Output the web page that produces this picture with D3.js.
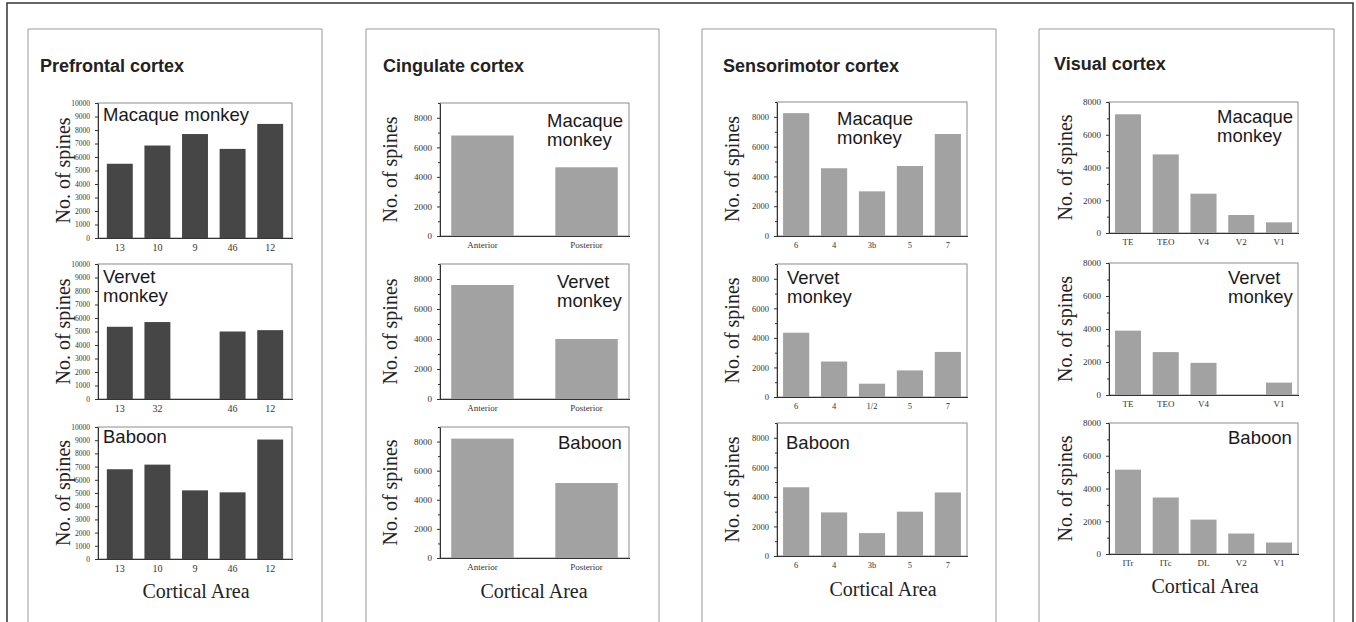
<!DOCTYPE html>
<html>
<head>
<meta charset="utf-8">
<script src="https://cdn.jsdelivr.net/npm/d3@7"></script>
<style>
  body { margin: 0; background: #fff; }
  .title { font-family: "Liberation Sans", Arial, sans-serif; font-weight: bold; font-size: 18px; fill: #222; }
  .species { font-family: "Liberation Sans", Arial, sans-serif; font-size: 18.5px; fill: #1a1a1a; }
  .serifLabel { font-family: "Liberation Serif", "Times New Roman", serif; font-size: 20px; fill: #222; }
  .axis text { font-family: "Liberation Serif", "Times New Roman", serif; fill: #333; }
  .axis path, .axis line { stroke: #333; }
</style>
</head>
<body>
<svg id="chart" width="1356" height="622"></svg>
<script>
// values (spines per cell)
var speciesNames = [["Macaque monkey"], ["Vervet", "monkey"], ["Baboon"]]
var speciesNamesTwoLine = [["Macaque", "monkey"], ["Vervet", "monkey"], ["Baboon"]]

var prefrontalAreas = [["13", "10", "9", "46", "12"], ["13", "32", "", "46", "12"], ["13", "10", "9", "46", "12"]]
var prefrontalSpines = [[5500, 6850, 7700, 6600, 8450], [5350, 5700, null, 5000, 5100], [6800, 7150, 5200, 5050, 9050]]

var cingulateAreas = [["Anterior", "Posterior"], ["Anterior", "Posterior"], ["Anterior", "Posterior"]]
var cingulateSpines = [[6800, 4650], [7600, 4000], [8200, 5150]]

var sensorimotorAreas = [["6", "4", "3b", "5", "7"], ["6", "4", "1/2", "5", "7"], ["6", "4", "3b", "5", "7"]]
var sensorimotorSpines = [[8250, 4550, 3000, 4700, 6850], [4350, 2400, 900, 1800, 3050], [4650, 2950, 1550, 3000, 4300]]

var visualAreas = [["TE", "TEO", "V4", "V2", "V1"], ["TE", "TEO", "V4", "", "V1"], ["ITr", "ITc", "DL", "V2", "V1"]]
var visualSpines = [[7250, 4800, 2400, 1100, 650], [3900, 2600, 1950, null, 750], [5150, 3450, 2100, 1250, 700]]

var yMaxes = [10000, 9000, 9000, 8000]
var majorSteps = [1000, 2000, 2000, 2000]

var svg = d3.select("#chart")

// outer frame
svg.append("path")
    .attr("d", "M7,622 V3 H1353 V622")
    .attr("fill", "none").attr("stroke", "#333").attr("stroke-width", 1.5)

var panels = [
    {title: "Prefrontal cortex", areas: prefrontalAreas, spines: prefrontalSpines, labels: speciesNames,
     box: [28, 322], titleXY: [40, 72], left: 98, right: 292, rows: [[103, 238], [264, 399], [427, 559]],
     pi: 0.31, po: 0.235, fill: "#464646", tickFont: 7.5, xFont: 10,
     labelXY: [[103, [121]], [103, [283, 302]], [103, [443]]], yLabelX: 63, xTitle: [196, 598]},
    {title: "Cingulate cortex", areas: cingulateAreas, spines: cingulateSpines, labels: speciesNamesTwoLine,
     box: [366, 659], titleXY: [383, 72], left: 440, right: 629, rows: [[103, 236], [264, 399], [427, 558]],
     pi: 0.4, po: 0.108, fill: "#a2a2a2", tickFont: 9, xFont: 9,
     labelXY: [[547, [127, 146]], [557, [288, 307]], [558, [449]]], yLabelX: 390, xTitle: [534, 598]},
    {title: "Sensorimotor cortex", areas: sensorimotorAreas, spines: sensorimotorSpines, labels: speciesNamesTwoLine,
     box: [702, 996], titleXY: [723, 72], left: 777, right: 967, rows: [[102, 236], [264, 397], [423, 556]],
     pi: 0.31, po: 0.16, fill: "#a2a2a2", tickFont: 8.5, xFont: 8.5,
     labelXY: [[837, [125, 144]], [787, [284, 303]], [786, [449]]], yLabelX: 732, xTitle: [883, 596]},
    {title: "Visual cortex", areas: visualAreas, spines: visualSpines, labels: speciesNamesTwoLine,
     box: [1039, 1334], titleXY: [1054, 70], left: 1109, right: 1298, rows: [[102, 233], [263, 395], [423, 554]],
     pi: 0.31, po: 0.158, fill: "#a2a2a2", tickFont: 9, xFont: 9,
     labelXY: [[1217, [123, 142]], [1228, [284, 303]], [1228, [444]]], yLabelX: 1065, xTitle: [1205, 593]}
]

panels.forEach(function (p, pIndex) {
    var g = svg.append("g")

    g.append("path")
        .attr("d", "M" + p.box[0] + ",622 V29 H" + p.box[1] + " V622")
        .attr("fill", "none").attr("stroke", "#9a9a9a").attr("stroke-width", 1)

    g.append("text").attr("class", "title")
        .attr("x", p.titleXY[0]).attr("y", p.titleXY[1])
        .text(p.title)

    p.rows.forEach(function (row, r) {
        var top = row[0], bottom = row[1]
        var idx = d3.range(p.areas[r].length)

        var xScale = d3.scaleBand()
            .domain(idx)
            .range([p.left, p.right])
            .paddingInner(p.pi)
            .paddingOuter(p.po)

        var yScale = d3.scaleLinear()
            .domain([0, yMaxes[pIndex]])
            .range([bottom, top])

        // plot frame
        g.append("rect")
            .attr("x", p.left).attr("y", top)
            .attr("width", p.right - p.left).attr("height", bottom - top)
            .attr("fill", "none").attr("stroke", "#8c8c8c").attr("stroke-width", 1)

        g.selectAll(".bar" + r)
            .data(idx.filter(function (i) { return p.spines[r][i] != null }))
            .enter().append("rect")
            .attr("x", function (i) { return xScale(i) })
            .attr("y", function (i) { return yScale(p.spines[r][i]) })
            .attr("width", xScale.bandwidth())
            .attr("height", function (i) { return bottom - yScale(p.spines[r][i]) })
            .attr("fill", p.fill)

        // minor ticks
        if (majorSteps[pIndex] > 1000) {
            g.append("g")
                .attr("class", "axis")
                .attr("transform", "translate(" + p.left + ",0)")
                .call(d3.axisLeft(yScale).tickValues(d3.range(1000, yMaxes[pIndex] + 1, 2000)).tickSize(2).tickFormat(""))
                .select(".domain").remove()
        }

        var yAxis = g.append("g")
            .attr("class", "axis")
            .attr("transform", "translate(" + p.left + ",0)")
            .call(d3.axisLeft(yScale)
                .tickValues(d3.range(0, yMaxes[pIndex] + 1, majorSteps[pIndex]).filter(function (v) { return v <= 8000 || pIndex == 0 }))
                .tickSize(3).tickSizeOuter(0).tickPadding(5).tickFormat(d3.format("d")))
        yAxis.selectAll("text").style("font-size", p.tickFont + "px")

        var xAxis = g.append("g")
            .attr("class", "axis")
            .attr("transform", "translate(0," + bottom + ")")
            .call(d3.axisBottom(xScale).tickSize(0).tickPadding(6)
                .tickFormat(function (i) { return p.areas[r][i] }))
        xAxis.select(".domain").attr("d", "M" + p.left + ",0.5H" + (p.right + 1)).attr("stroke-width", 1.2)
        xAxis.selectAll("text").style("font-size", p.xFont + "px")

        // species label
        var lab = p.labelXY[r]
        var lines = (pIndex == 0 && r == 0) ? ["Macaque monkey"] : p.labels[r]
        lines.forEach(function (line, li) {
            g.append("text").attr("class", "species")
                .attr("x", lab[0]).attr("y", lab[1][li])
                .text(line)
        })

        g.append("text").attr("class", "serifLabel")
            .attr("transform", "translate(" + p.yLabelX + "," + ((top + bottom) / 2) + ") rotate(-90)")
            .attr("text-anchor", "middle")
            .attr("dy", "0.35em")
            .text("No. of spines")
    })

    g.append("text").attr("class", "serifLabel")
        .attr("x", p.xTitle[0]).attr("y", p.xTitle[1])
        .attr("text-anchor", "middle")
        .text("Cortical Area")
})
</script>
</body>
</html>
